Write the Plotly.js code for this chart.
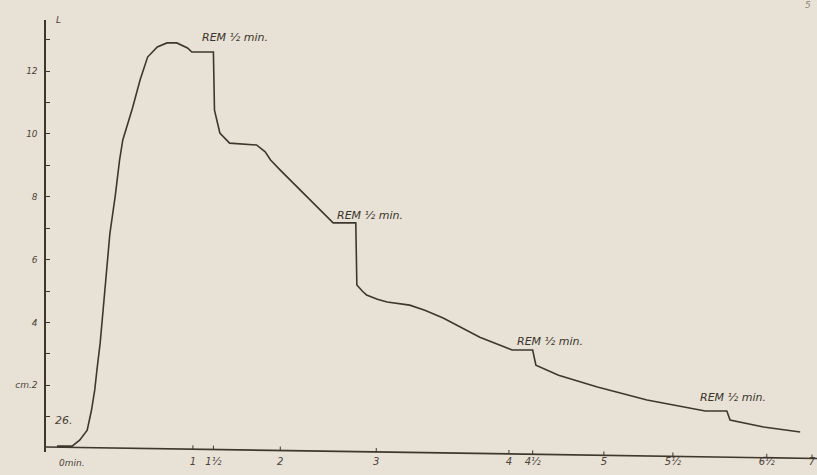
<!DOCTYPE html>
<html>
<head>
<meta charset="utf-8">
<script src="https://cdn.plot.ly/plotly-3.0.1.min.js"></script>
<style>html,body{margin:0;padding:0;background:#e8e1d6;}#chart{width:817px;height:475px;}</style>
</head>
<body>
<div id="chart"></div>
<script>
// time (min, as drawn on the recording strip) and area (cm²)
const timeMin = [0, 0.14, 0.21, 0.28, 0.32, 0.35, 0.37, 0.40, 0.43, 0.47, 0.49, 0.54, 0.58, 0.61, 0.66, 0.70, 0.77, 0.84, 0.93, 1.02, 1.11, 1.21, 1.25, 1.45,
  1.46, 1.51, 1.60, 1.79, 1.85, 1.93, 1.98, 2.07, 2.16, 2.35, 2.53, 2.56, 2.77,
  2.78, 2.83, 2.87, 2.97, 3.06, 3.27, 3.41, 3.58, 3.92, 4.22, 4.41,
  4.44, 4.65, 5.01, 5.47, 6.01, 6.21, 6.24, 6.55, 6.89];
const areaCm2 = [0.06, 0.06, 0.25, 0.57, 1.21, 1.85, 2.48, 3.34, 4.49, 6.0, 6.82, 8.03, 9.17, 9.81, 10.38, 10.83, 11.72, 12.45, 12.77, 12.9, 12.9, 12.74, 12.61, 12.61,
  10.76, 10.03, 9.71, 9.68, 9.65, 9.43, 9.17, 8.85, 8.54, 7.90, 7.26, 7.17, 7.17,
  5.19, 5.00, 4.87, 4.74, 4.65, 4.55, 4.39, 4.14, 3.53, 3.12, 3.12,
  2.64, 2.32, 1.94, 1.53, 1.18, 1.18, 0.89, 0.67, 0.51];

const xTickPos = [1.26, 1.45, 2.07, 2.96, 4.19, 4.41, 5.07, 5.71, 6.58, 7.0];
const xTickText = ['1', '1½', '2', '3', '4', '4½', '5', '5½', '6½', '7'];
const yTickVals = [1, 2, 3, 4, 5, 6, 7, 8, 9, 10, 11, 12, 13];
const yTickText = ['', 'cm.2', '', '4', '', '6', '', '8', '', '10', '', '12', ''];

const remLabels = ['REM ½ min.', 'REM ½ min.', 'REM ½ min.', 'REM ½ min.'];
const remX = [1.326, 2.577, 4.246, 5.943];
const remY = [13.06, 7.42, 3.38, 1.62];

const ink = '#3d372e';
const fontBase = {family: 'DejaVu Sans, sans-serif', size: 10, color: '#4a4339', style: 'italic'};

const xMin = -0.102, xMax = 7.046;
// tilted baseline (paper y at left/right)
const axL = 0.0116, axR = -0.015;
function axisAt(x) { return axL + (axR - axL) * (x - xMin) / (xMax - xMin); }

const shapes = [{type: 'line', xref: 'paper', yref: 'paper', x0: 0, x1: 1, y0: axL, y1: axR, line: {color: ink, width: 1.6}}];
xTickPos.forEach(function (v) {
  const a = axisAt(v);
  shapes.push({type: 'line', xref: 'x', yref: 'paper', x0: v, x1: v, y0: a, y1: a + 0.009, line: {color: ink, width: 1}});
});

const annotations = [];
remLabels.forEach(function (t, i) {
  annotations.push({x: remX[i], y: remY[i], xref: 'x', yref: 'y', text: t, showarrow: false, xanchor: 'left', yanchor: 'middle',
    font: Object.assign({}, fontBase, {size: 11, color: '#3a342b'})});
});
annotations.push({x: -0.037, y: 0.89, xref: 'x', yref: 'y', text: '26.', showarrow: false, xanchor: 'left', yanchor: 'middle', font: Object.assign({}, fontBase, {size: 11})});
annotations.push({x: 0, y: -0.01, xref: 'x', yref: 'paper', text: '0min.', showarrow: false, xanchor: 'left', yanchor: 'top', font: Object.assign({}, fontBase, {size: 9})});
annotations.push({x: 0.01, y: 1.0, xref: 'paper', yref: 'paper', text: 'L', showarrow: false, xanchor: 'left', yanchor: 'middle', font: Object.assign({}, fontBase, {size: 9})});
annotations.push({x: 0.995, y: 1.035, xref: 'paper', yref: 'paper', text: '5', showarrow: false, xanchor: 'right', yanchor: 'middle', font: Object.assign({}, fontBase, {size: 9, color: '#8a8274'})});

const trace = {x: timeMin, y: areaCm2, type: 'scatter', mode: 'lines', line: {color: ink, width: 1.6}, cliponaxis: false, hoverinfo: 'skip'};

const layout = {
  width: 817, height: 475,
  margin: {l: 46, r: 0, t: 20, b: 23},
  paper_bgcolor: '#e8e1d6', plot_bgcolor: 'rgba(0,0,0,0)',
  showlegend: false,
  xaxis: {range: [xMin, xMax], showgrid: false, zeroline: false, showline: false, ticks: '',
    tickmode: 'array', tickvals: xTickPos, ticktext: xTickText, tickfont: Object.assign({}, fontBase, {size: 10}), ticklabelstandoff: 2},
  yaxis: {range: [-0.127, 13.63], showgrid: false, zeroline: false, showline: true, linecolor: ink, linewidth: 1.6,
    ticks: 'inside', ticklen: 4, tickcolor: ink, tickmode: 'array', tickvals: yTickVals, ticktext: yTickText,
    tickfont: Object.assign({}, fontBase, {size: 9}), ticklabelstandoff: 5},
  shapes: shapes, annotations: annotations
};

Plotly.newPlot('chart', [trace], layout, {staticPlot: true, displayModeBar: false});
</script>
</body>
</html>
